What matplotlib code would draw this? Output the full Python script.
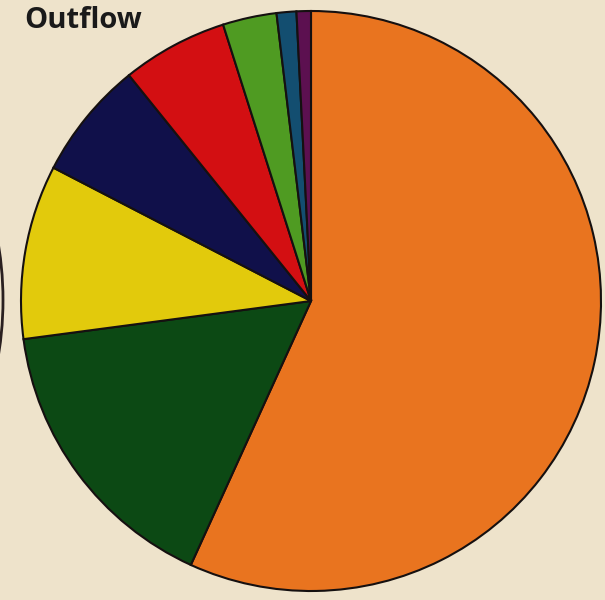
import numpy as np
import matplotlib
matplotlib.use("Agg")
import matplotlib.pyplot as plt
from matplotlib.patches import Circle

# slice shares (%), clockwise from 12 o'clock
labels = ["Orange", "Dark green", "Yellow", "Navy", "Red", "Green", "Teal", "Purple"]
shares = [56.8, 16.1, 9.7, 6.6, 5.9, 3.0, 1.1, 0.8]
colors = ["#E9741F", "#0C4914", "#E2CA0C", "#10104A", "#D30F12", "#4F9B22", "#134E70", "#5C1050"]

bg = "#EEE3CB"

fig = plt.figure(figsize=(6.05, 6.00), dpi=100)
fig.patch.set_facecolor(bg)
ax = fig.add_axes([0, 0, 1, 1])
ax.set_facecolor(bg)

ax.pie(shares, colors=colors, startangle=90, counterclock=False,
       center=(311, 299), radius=290,
       wedgeprops=dict(edgecolor="#151010", linewidth=1.5))

# edge of the neighbouring chart peeking in on the left
ax.add_patch(Circle((-336, 300), 339, facecolor="none", edgecolor="#2a2020", linewidth=2))

ax.text(24, 579, "Outflow", fontsize=21, fontweight="bold", family="Open Sans",
        color="#1a1a1a", ha="left", va="center")

ax.set_xlim(0, 605)
ax.set_ylim(0, 600)
ax.set_aspect("equal")
ax.axis("off")

fig.savefig("out.png", dpi=100, facecolor=bg)
